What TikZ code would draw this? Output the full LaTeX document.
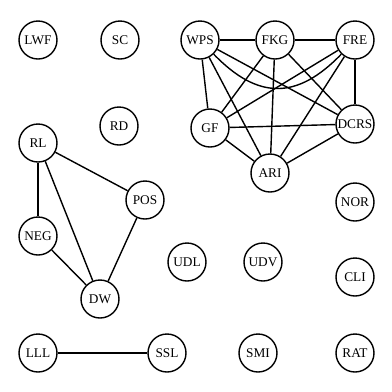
\documentclass[tikz,border=0pt]{standalone}
\usepackage{fontspec}
\setmainfont{Liberation Serif}
\begin{document}
\begin{tikzpicture}[x=1pt,y=-1pt,
  vnode/.style={circle,draw,line width=1.4pt,minimum size=38pt,inner sep=0pt,font=\fontsize{13.3}{14}\selectfont},
  conn/.style={line width=1.4pt}]
\useasboundingbox (0,0) rectangle (392,392);
\node[vnode] (LWF) at (38,40) {LWF};
\node[vnode] (SC) at (120,40) {SC};
\node[vnode] (WPS) at (200,40) {WPS};
\node[vnode] (FKG) at (275,40) {FKG};
\node[vnode] (FRE) at (355,40) {FRE};
\node[vnode] (RD) at (119,126) {RD};
\node[vnode] (GF) at (210,128) {GF};
\node[vnode] (DCRS) at (355,124) {DCRS};
\node[vnode] (RL) at (38,143) {RL};
\node[vnode] (ARI) at (270,173) {ARI};
\node[vnode] (POS) at (145,200) {POS};
\node[vnode] (NOR) at (355,202) {NOR};
\node[vnode] (NEG) at (38,236) {NEG};
\node[vnode] (UDL) at (187,262) {UDL};
\node[vnode] (UDV) at (263,262) {UDV};
\node[vnode] (CLI) at (355,277) {CLI};
\node[vnode] (DW) at (100,299) {DW};
\node[vnode] (LLL) at (38,353) {LLL};
\node[vnode] (SSL) at (167,353) {SSL};
\node[vnode] (SMI) at (258,353) {SMI};
\node[vnode] (RAT) at (355,353) {RAT};
\draw[conn] (WPS) -- (FKG);
\draw[conn] (FKG) -- (FRE);
\draw[conn] (WPS) -- (GF);
\draw[conn] (WPS) -- (ARI);
\draw[conn] (WPS) -- (DCRS);
\draw[conn] (WPS) .. controls (258,100) and (297,100) .. (FRE);
\draw[conn] (FKG) -- (GF);
\draw[conn] (FKG) -- (ARI);
\draw[conn] (FKG) -- (DCRS);
\draw[conn] (FRE) -- (GF);
\draw[conn] (FRE) -- (ARI);
\draw[conn] (FRE) -- (DCRS);
\draw[conn] (GF) -- (DCRS);
\draw[conn] (GF) -- (ARI);
\draw[conn] (ARI) -- (DCRS);
\draw[conn] (RL) -- (POS);
\draw[conn] (RL) -- (NEG);
\draw[conn] (RL) -- (DW);
\draw[conn] (NEG) -- (DW);
\draw[conn] (POS) -- (DW);
\draw[conn] (LLL) -- (SSL);
\end{tikzpicture}
\end{document}
